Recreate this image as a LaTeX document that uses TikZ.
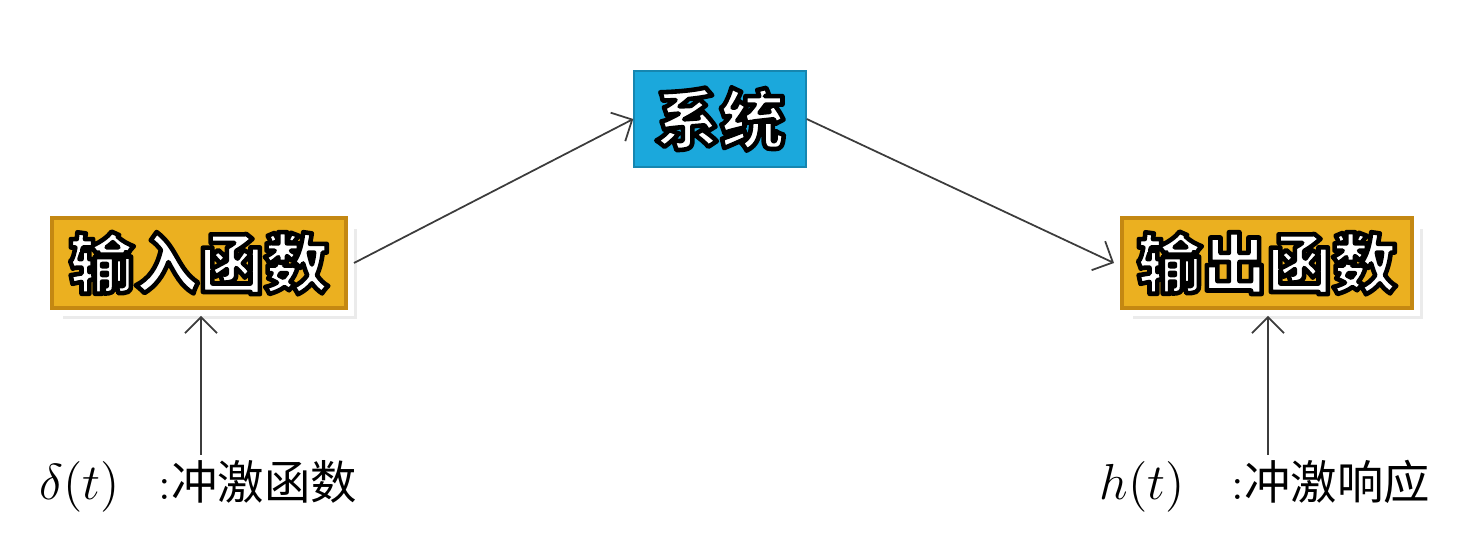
\documentclass[tikz,border=0pt]{standalone}
\usepackage{fontspec}
\newfontfamily\cjk{Noto Sans CJK SC}
\usepackage{tikz}
\usetikzlibrary{arrows.meta,shadows}

\definecolor{boxgold}{RGB}{235,176,32}
\definecolor{goldedge}{RGB}{196,136,18}
\definecolor{sysblue}{RGB}{27,168,220}
\definecolor{linegray}{RGB}{60,60,60}

% white letters with a dark rim (stroked glyphs)
\newcommand\rimtext[1]{{\color{white}%
  \special{pdf:literal direct 0 G 1 j 2 Tr 1.3 w}#1\special{pdf:literal direct 0 Tr}}}

\begin{document}
\begin{tikzpicture}[
    every node/.style={inner sep=0pt},
    fnbox/.style={rectangle, fill=boxgold, draw=goldedge, line width=1pt,
                  minimum width=2.94cm, minimum height=0.90cm, outer sep=0.08cm,
                  font=\cjk\bfseries\fontsize{18.5}{20}\selectfont,
                  drop shadow={opacity=0.16, shadow xshift=1.1mm, shadow yshift=-1.1mm},
                  preaction={draw=white, line width=0.16cm}},
    sysbox/.style={rectangle, fill=sysblue, draw=sysblue!80!black, line width=0.4pt,
                   minimum width=1.72cm, minimum height=0.96cm,
                   font=\cjk\bfseries\fontsize{18.5}{20}\selectfont},
    e/.style={-{Straight Barb[length=1.6mm, width=3.2mm]}, linegray, line width=0.5pt},
    lbl/.style={font=\fontsize{13.5}{16}\selectfont, anchor=base},
    clbl/.style={font=\cjk\fontsize{13.2}{16}\selectfont, anchor=base},
  ]
  \useasboundingbox (0,0) rectangle (14.65,-5.52);

  \node[fnbox] (in) at (1.99,-2.63) {\rimtext{输入函数}};
  \node[sysbox] (sys) at (7.20,-1.19) {\rimtext{系统}};
  \node[fnbox, minimum width=2.90cm] (out) at (12.67,-2.63) {\rimtext{输出函数}};

  \node[lbl] (delta) at (0.80,-5.00) {$\delta(t)$};
  \node[clbl] (deltatxt) at (2.58,-5.00) {{\rmfamily:}冲激函数};
  \node[lbl] (hfun) at (11.42,-5.00) {$h(t)$};
  \node[clbl] (hresp) at (13.31,-5.00) {{\rmfamily:}冲激响应};

  \coordinate (inbot) at (2.01,-4.55);
  \coordinate (outbot) at (12.68,-4.55);

  \draw[e] (in.east) -- (sys.west);
  \draw[e] (sys.east) -- (out.west);
  \draw[e] (inbot) -- (inbot |- in.south);
  \draw[e] (outbot) -- (outbot |- out.south);
\end{tikzpicture}
\end{document}
